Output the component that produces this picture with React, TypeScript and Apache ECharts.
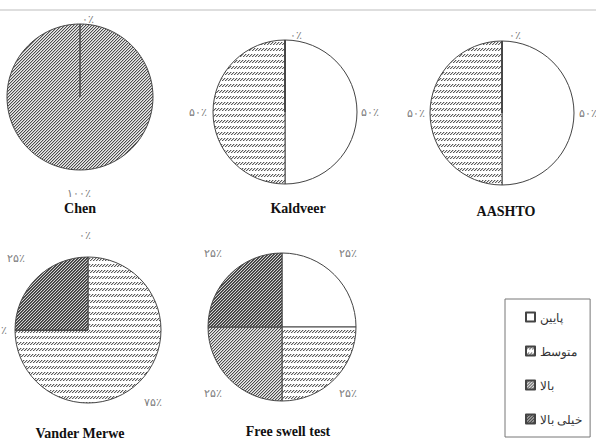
import React, { useEffect, useRef } from 'react';
import * as echarts from 'echarts';

// ---- data ----
const categories = ['پایین', 'متوسط', 'بالا', 'خیلی بالا'];
const methods = ['Chen', 'Kaldveer', 'AASHTO', 'Vander Merwe', 'Free swell test'];
const chenValues = [0, 0, 100, 0];
const kaldveerValues = [50, 50, 0, 0];
const aashtoValues = [50, 50, 0, 0];
const vanderMerweValues = [0, 75, 0, 25];
const freeSwellValues = [25, 25, 25, 25];
const allValues = [chenValues, kaldveerValues, aashtoValues, vanderMerweValues, freeSwellValues];

// ---- layout ----
const pieCenters = [[80, 97], [285, 112], [502, 113], [88, 330], [282, 327]];
const pieRadii = [73, 72, 72, 73, 74];
const titlePos = [[80, 201], [298, 201], [506, 204], [80, 426], [288, 424]];
const labelPos: (number[] | null)[][] = [
  [[88, 19], null, [79, 193], null],
  [[370, 112], [198, 112], [296, 35], null],
  [[588, 113], [416, 113], [515, 35], null],
  [[85, 235], [153, 402], [1, 330], [16, 258]],
  [[348, 253], [348, 393], [213, 393], [213, 253]],
];

const faDigits = '۰۱۲۳۴۵۶۷۸۹';
const toFa = (n: number) => String(n).replace(/\d/g, (d) => faDigits[+d]) + '٪';

function makeTile(w: number, h: number, draw: (ctx: CanvasRenderingContext2D) => void) {
  const c = document.createElement('canvas');
  c.width = w;
  c.height = h;
  const ctx = c.getContext('2d')!;
  draw(ctx);
  return { image: c.toDataURL(), repeat: 'repeat', imageWidth: w, imageHeight: h } as any;
}

function px(ctx: CanvasRenderingContext2D, x: number, y: number, col: string) {
  ctx.fillStyle = col;
  ctx.fillRect(x, y, 1, 1);
}

export default function App() {
  const ref = useRef<HTMLDivElement>(null);
  useEffect(() => {
    if (!ref.current) return;
    const chart = echarts.init(ref.current, null, { renderer: 'svg' });

    const white = '#ffffff';
    const medium = makeTile(3, 6, (ctx) => {
      ctx.fillStyle = '#ffffff';
      ctx.fillRect(0, 0, 3, 6);
      px(ctx, 2, 0, '#5a5a5a'); px(ctx, 0, 0, '#c8c8c8');
      px(ctx, 1, 1, '#5a5a5a'); px(ctx, 2, 1, '#c8c8c8');
      px(ctx, 0, 2, '#5a5a5a'); px(ctx, 1, 2, '#c8c8c8');
    });
    const high = makeTile(3, 3, (ctx) => {
      for (let y = 0; y < 3; y++) {
        const d = (2 - y + 3) % 3;
        px(ctx, d, y, '#4d4d4d');
        px(ctx, (d + 1) % 3, y, '#bdbdbd');
        px(ctx, (d + 2) % 3, y, '#ececec');
      }
    });
    const veryHigh = makeTile(3, 3, (ctx) => {
      for (let y = 0; y < 3; y++) {
        const d = (2 - y + 3) % 3;
        px(ctx, d, y, '#3a3a3a');
        px(ctx, (d + 1) % 3, y, '#5e5e5e');
        px(ctx, (d + 2) % 3, y, '#d4d4d4');
      }
    });
    const fills = [white, medium, high, veryHigh];

    const graphics: any[] = [
      { type: 'line', shape: { x1: 0, y1: 10, x2: 596, y2: 10 }, style: { stroke: '#bdbdbd', lineWidth: 1 }, silent: true },
    ];
    methods.forEach((m, i) => {
      graphics.push({
        type: 'text',
        x: titlePos[i][0],
        y: titlePos[i][1],
        silent: true,
        style: {
          text: m,
          textAlign: 'center',
          textVerticalAlign: 'top',
          fontFamily: 'Liberation Serif',
          fontWeight: 'bold',
          fontSize: 14,
          fill: '#111',
        },
      });
    });

    chart.setOption({
      animation: false,
      backgroundColor: '#ffffff',
      graphic: graphics,
      legend: {
        orient: 'vertical',
        left: 505,
        top: 299,
        data: categories,
        selectedMode: false,
        icon: 'rect',
        itemWidth: 9,
        itemHeight: 9,
        itemGap: 22,
        padding: [12, 8, 12, 20],
        borderColor: '#777',
        borderWidth: 1,
        align: 'left',
        textStyle: { fontFamily: 'Noto Sans', fontSize: 12, color: '#333' },
      },
      series: allValues.map((vals, si) => ({
        type: 'pie',
        name: methods[si],
        center: pieCenters[si],
        radius: pieRadii[si],
        startAngle: 90,
        clockwise: true,
        silent: true,
        avoidLabelOverlap: false,
        itemStyle: { borderColor: '#444', borderWidth: 1 },
        label: {
          position: 'outside',
          formatter: (p: any) => toFa(p.value),
          fontSize: 11,
          color: '#7a7a7a',
          fontFamily: 'Liberation Serif',
        },
        labelLine: { show: false },
        labelLayout: (params: any) => {
          const pos = labelPos[si][params.dataIndex];
          if (!pos) return {};
          return { x: pos[0], y: pos[1], align: 'center', verticalAlign: 'middle' };
        },
        data: vals.map((v, i) => ({
          name: categories[i],
          value: v,
          itemStyle: { color: fills[i] },
          label: { show: labelPos[si][i] != null },
        })),
      })),
    });
    return () => chart.dispose();
  }, []);
  return (
    <div
      ref={ref}
      style={{ position: 'fixed', left: 0, top: 0, width: 596, height: 439, background: '#fff' }}
    />
  );
}
